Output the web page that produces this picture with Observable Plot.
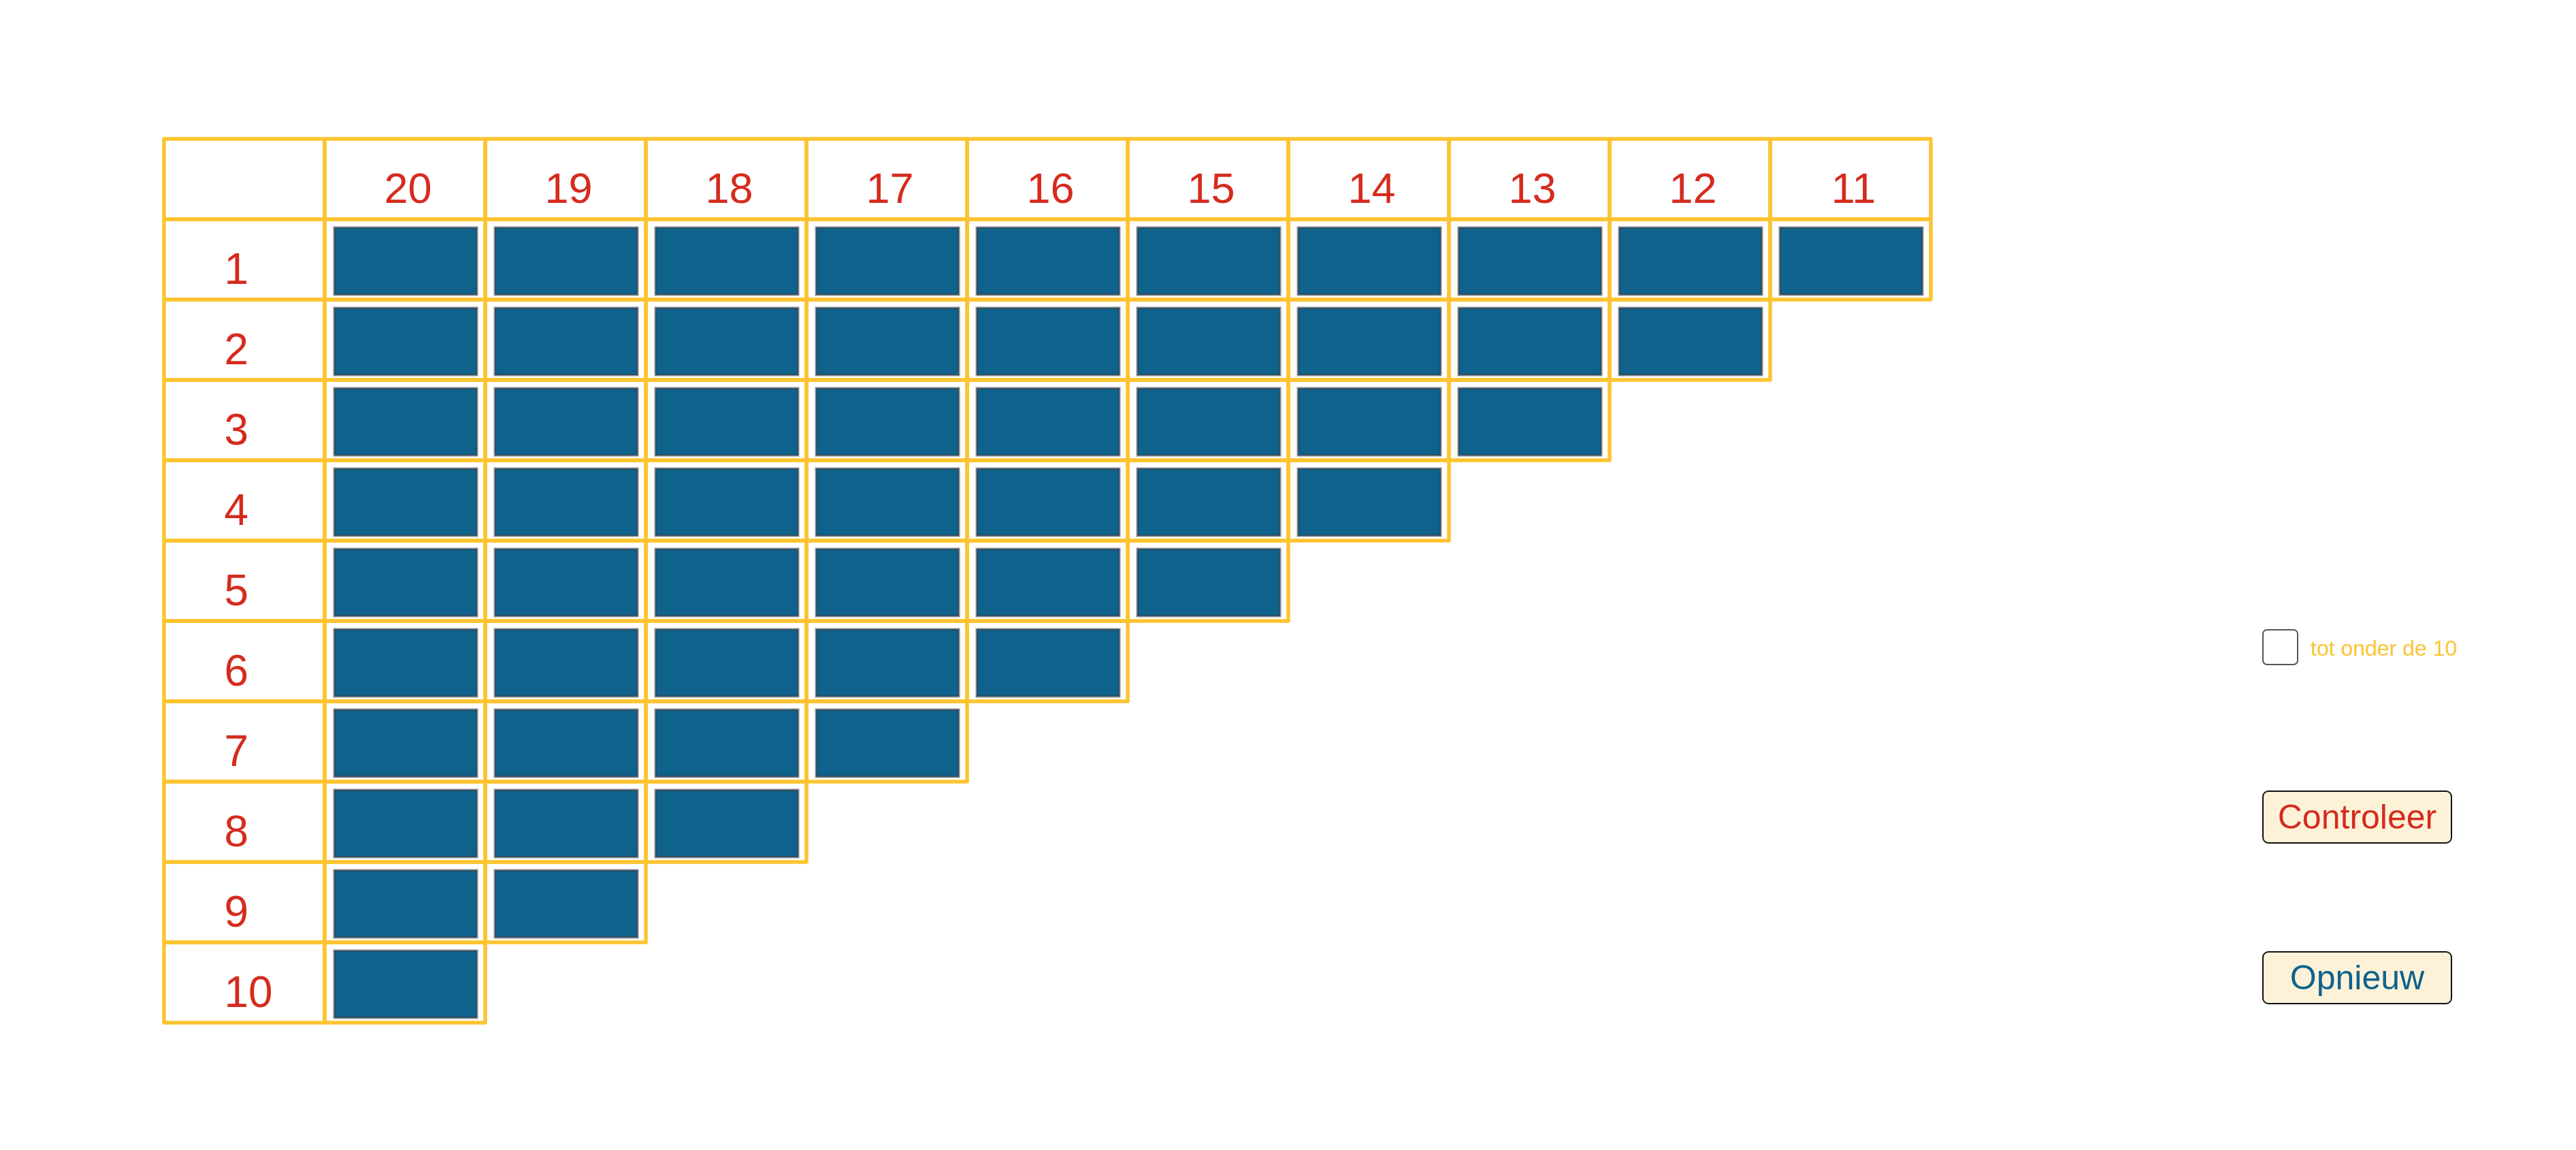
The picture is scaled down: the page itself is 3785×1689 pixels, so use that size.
<!DOCTYPE html>
<html>
<head>
<meta charset="utf-8">
<script src="https://cdn.jsdelivr.net/npm/d3@7"></script>
<script src="https://cdn.jsdelivr.net/npm/@observablehq/plot@0.6"></script>
<style>
  html, body { margin: 0; padding: 0; background: #fff; width: 3785px; height: 1689px; overflow: hidden; font-family: "Liberation Sans", Arial, sans-serif; }
  #chart { position: absolute; left: 0; top: 0; }
  .cb { position: absolute; left: 3324px; top: 924px; width: 49px; height: 49px; border: 2.5px solid #555; border-radius: 7px; background: #fff; }
  .cblabel { position: absolute; left: 3395px; top: 936px; font-size: 32px; line-height: 32px; color: #FCC430; white-space: nowrap; }
  .btn { position: absolute; left: 3324px; width: 275px; height: 74px; border: 2.5px solid #111; border-radius: 9px; background: #FDF2D8; font-size: 50px; line-height: 74px; text-align: center; }
</style>
</head>
<body>
<div id="chart"></div>
<div class="cb"></div>
<div class="cblabel">tot onder de 10</div>
<div class="btn" style="top:1161px;color:#D52B1E">Controleer</div>
<div class="btn" style="top:1397px;color:#0F628C">Opnieuw</div>
<script>
// Column headers (left to right), row headers (top to bottom)
const columnLabels = [20, 19, 18, 17, 16, 15, 14, 13, 12, 11];
const rowLabels = [1, 2, 3, 4, 5, 6, 7, 8, 9, 10];
// Number of filled cells in each row
const filledPerRow = [10, 9, 8, 7, 6, 5, 4, 3, 2, 1];

const gridColor = "#FCC430";
const labelColor = "#D52B1E";
const blockColor = "#0F628C";

const xDomain = ["", ...columnLabels.map(String)];
const yDomain = ["", ...rowLabels.map(String)];

// Build cell tables
const headerCells = xDomain.map(c => ({col: c, row: ""}));
const rowHeaderCells = rowLabels.map(r => ({col: "", row: String(r)}));
const bodyCells = [];
rowLabels.forEach((r, i) => {
  for (let j = 0; j < filledPerRow[i]; j++) {
    bodyCells.push({col: String(columnLabels[j]), row: String(r)});
  }
});
const colText = columnLabels.map(c => ({col: String(c), row: "", label: String(c)}));
const rowText = rowLabels.map(r => ({col: "", row: String(r), label: String(r)}));

const chart = Plot.plot({
  width: 3785,
  height: 1689,
  marginLeft: 241,
  marginRight: 948,
  marginTop: 204,
  marginBottom: 187,
  x: {type: "band", domain: xDomain, padding: 0, axis: null},
  y: {type: "band", domain: yDomain, padding: 0, axis: null},
  style: {fontFamily: "Liberation Sans, Arial, sans-serif", background: "transparent"},
  marks: [
    Plot.cell(bodyCells, {x: "col", y: "row", fill: blockColor, stroke: "#8a9095", strokeWidth: 3,
      insetLeft: 14, insetRight: 12, insetTop: 12, insetBottom: 7}),
    Plot.cell(bodyCells, {x: "col", y: "row", fill: "none", stroke: "#1f3f55", strokeWidth: 1.5,
      insetLeft: 15, insetRight: 13, insetTop: 13, insetBottom: 8}),
    Plot.cell([...headerCells, ...rowHeaderCells, ...bodyCells], {x: "col", y: "row", fill: "none",
      stroke: gridColor, strokeWidth: 5.5, strokeLinejoin: "round", inset: 0}),
    Plot.text(colText, {x: "col", y: "row", text: "label", fill: labelColor, fontSize: 63, dy: 14, dx: 4}),
    Plot.text(rowText, {x: "col", y: "row", text: "label", fill: labelColor, fontSize: 64, dy: 15,
      dx: -30, textAnchor: "start"})
  ]
});
document.getElementById("chart").appendChild(chart);
</script>
</body>
</html>
